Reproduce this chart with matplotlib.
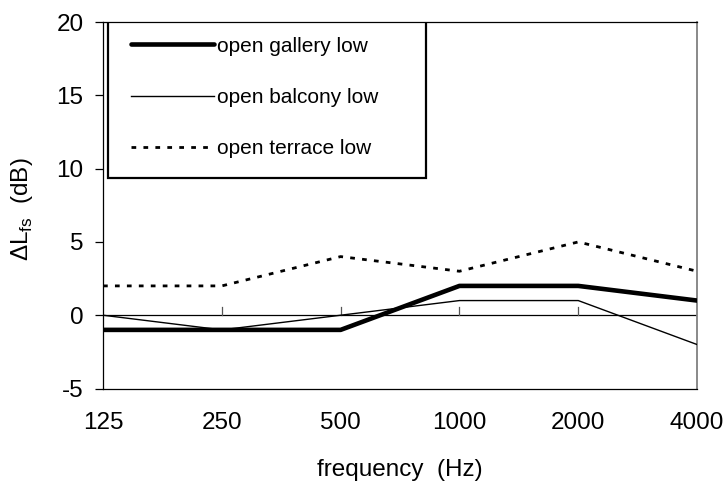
import matplotlib.pyplot as plt
import matplotlib.patches as mpatches
import numpy as np

# data
freqs = ['125', '250', '500', '1000', '2000', '4000']
gallery = [-1, -1, -1, 2, 2, 1]
balcony = [0, -1, 0, 1, 1, -2]
terrace = [2, 2, 4, 3, 5, 3]

plt.rcParams['font.family'] = ['Liberation Sans', 'DejaVu Sans']

fig = plt.figure(figsize=(7.28, 4.86), dpi=100)
ax = fig.add_axes([0.1415, 0.2006, 0.816, 0.754])

x = np.arange(len(freqs))
ax.plot(x, gallery, color='black', lw=3.3, solid_capstyle='round',
        label='open gallery low', zorder=4)
ax.plot(x, balcony, color='black', lw=1.0, label='open balcony low', zorder=3)
ax.plot(x, terrace, color='black', lw=2.0, linestyle=(0, (1.7, 2.6)),
        dash_capstyle='butt', label='open terrace low', zorder=3)

# x axis line at zero with small ticks pointing up
ax.axhline(0, color='black', lw=0.9, zorder=2)
for xi in x[1:-1]:
    ax.plot([xi, xi], [0, 0.55], color='#555555', lw=0.9, zorder=2)

ax.set_xlim(0, 5)
ax.set_ylim(-5, 20)
ax.set_xticks(x)
ax.set_xticklabels(freqs, fontsize=17.5)
ax.tick_params(axis='x', length=0, pad=17)
ax.set_yticks([-5, 0, 5, 10, 15, 20])
ax.set_yticklabels(['-5', '0', '5', '10', '15', '20'])
ax.tick_params(axis='y', direction='out', length=6, width=0.9, labelsize=17.5, pad=8)

for s in ax.spines.values():
    s.set_color('black')
    s.set_linewidth(0.9)
ax.spines['right'].set_color('#808080')
ax.spines['right'].set_linewidth(1.3)

ax.set_xlabel('frequency  (Hz)', fontsize=17.5)
ax.xaxis.set_label_coords(0.5, -0.192)
ax.set_ylabel('ΔL$_\\mathregular{fs}$  (dB)', fontsize=17.5)
ax.yaxis.set_label_coords(-0.115, 0.49)

# legend box
box = mpatches.Rectangle((0.0084, 0.574), 0.5356, 0.426, transform=ax.transAxes,
                         facecolor='white', edgecolor='black', lw=1.6, zorder=5)
ax.add_patch(box)
leg = ax.legend(loc='upper left', bbox_to_anchor=(0.047, 0.960), fontsize=15,
                frameon=False, handlelength=4.0, handletextpad=0.15,
                labelspacing=1.55, borderpad=0, borderaxespad=0)
leg.set_zorder(6)

plt.savefig('out.png', dpi=100)
